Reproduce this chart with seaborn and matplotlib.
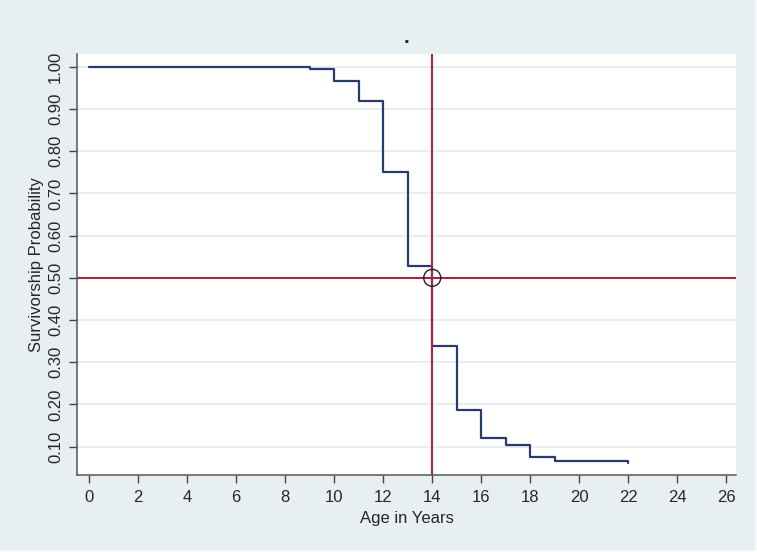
import pandas as pd
import numpy as np
import seaborn as sns
import matplotlib.pyplot as plt
from matplotlib.lines import Line2D

# survivorship (step function)
age = [0, 9, 10, 11, 12, 13, 14, 15, 16, 17, 18, 19, 22]
survie = [1.00, 0.994, 0.967, 0.920, 0.751, 0.528, 0.339, 0.186, 0.120, 0.104, 0.075, 0.066, 0.061]

median_age = [14]
median_prob = [0.5]

x_ticks = list(range(0, 27, 2))
y_ticks = [0.10, 0.20, 0.30, 0.40, 0.50, 0.60, 0.70, 0.80, 0.90, 1.00]

df = pd.DataFrame({'age': age, 'survie': survie})
df_med = pd.DataFrame({'age': median_age, 'prob': median_prob})

sns.set_style('white')
plt.rcParams['font.family'] = ['Liberation Sans', 'DejaVu Sans']

fond = '#e8eff2'
rouge = '#a3283e'
bleu = '#283c6c'

fig = plt.figure(figsize=(7.57, 5.52), dpi=100, facecolor=fond)
ax = fig.add_axes([0.1017, 0.1395, 0.8706, 0.7618])
ax.set_facecolor('white')

# grille horizontale
for t in y_ticks:
    ax.axhline(t, color='#e6ecef', lw=1.3, zorder=0)

sns.lineplot(data=df, x='age', y='survie', drawstyle='steps-post', estimator=None,
             color=bleu, lw=1.6, ax=ax, zorder=3)

ax.axhline(0.5, color=rouge, lw=1.5, zorder=4)
ax.axvline(14, color=rouge, lw=1.5, zorder=4)

sns.scatterplot(data=df_med, x='age', y='prob', s=150, facecolor='none',
                edgecolor='#222222', linewidth=1.0, ax=ax, zorder=5)

ax.set_xlim(-0.5, 26.4)
ax.set_ylim(0.033, 1.029)
ax.set_xticks(x_ticks)
ax.set_yticks(y_ticks)
ax.set_yticklabels(['%.2f' % t for t in y_ticks], rotation=90, va='center')
ax.tick_params(axis='both', labelsize=12, length=6, width=1, color='#444444',
               direction='out', pad=4, left=True, bottom=True)
ax.tick_params(axis='x', pad=5)

for s in ['top', 'right']:
    ax.spines[s].set_visible(False)
for s in ['left', 'bottom']:
    ax.spines[s].set_color('#555555')
    ax.spines[s].set_linewidth(1.1)

ax.set_xlabel('Age in Years', fontsize=12, labelpad=4)
ax.set_ylabel('Survivorship Probability', fontsize=12, labelpad=3)
ax.set_title('.', fontsize=15, fontweight='bold', color='#1f2a4a', pad=8)

# fin liseré clair autour du graphique
fig.add_artist(Line2D([0, 1], [0.001, 0.001], transform=fig.transFigure, color='#f6f9fa', lw=1.5))
fig.add_artist(Line2D([0.999, 0.999], [0, 1], transform=fig.transFigure, color='#f6f9fa', lw=1.5))

plt.savefig('out.png', dpi=100, facecolor=fond)
